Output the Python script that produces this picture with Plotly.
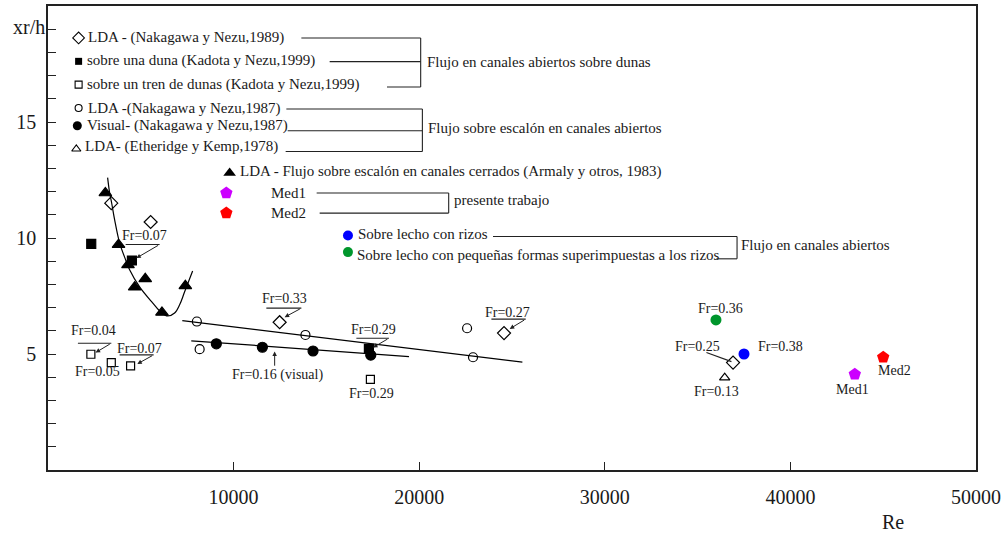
import plotly.graph_objects as go

# ---------------- data (Re, xr/h) ----------------
armaly_re = [3090, 3800, 4310, 4670, 5240, 6140, 7400]
armaly_xr = [11.94, 9.71, 8.84, 7.88, 8.24, 6.79, 7.94]

nn89_re = [3410, 5530, 12480, 24570, 36910]
nn89_xr = [11.50, 10.69, 6.37, 5.90, 4.63]

duna_re = [2330, 4520, 17290]
duna_xr = [9.75, 9.03, 5.22]

tren_re = [2310, 3410, 4450, 17370]
tren_xr = [4.99, 4.63, 4.49, 3.91]

nn87_lda_re = [8020, 8170, 13870, 22580, 22900]
nn87_lda_xr = [6.40, 5.21, 5.82, 6.11, 4.86]

nn87_vis_re = [9070, 11550, 14280, 17390]
nn87_vis_xr = [5.44, 5.29, 5.13, 4.95]

eth_re = [36460]
eth_xr = [3.98]

rizos_re = [37500]
rizos_xr = [5.00]
peq_re = [35990]
peq_xr = [6.47]

med1_re = [43470]
med1_xr = [4.13]
med2_re = [45000]
med2_xr = [4.86]

# trend lines
curve_re = [3212, 3320, 3427, 3589, 3858, 4182, 4397, 4936, 5637, 6122, 6445, 6822, 7092, 7361, 7792]
curve_xr = [12.60, 11.95, 11.52, 10.79, 9.79, 9.06, 8.63, 7.89, 7.20, 6.77, 6.64, 6.77, 7.12, 7.68, 8.58]
lda_fit_re = [7235, 25560]
lda_fit_xr = [6.44, 4.65]
vis_fit_re = [7720, 19450]
vis_fit_xr = [5.57, 4.89]

x_ticks = [10000, 20000, 30000, 40000, 50000]
y_ticks = list(range(1, 20))
y_labels = {5: "5", 10: "10", 15: "15"}

# ---------------- layout helpers (pixel -> axis units) ----------------
X0, XW = 48.4, 927.8
Y0, YH = 470.0, 463.6
def dx(px):
    return (px - X0) / XW * 50000
def dy(py):
    return (Y0 - py) / YH * 20
def px_paper(px):
    return (px - X0) / XW
def py_paper(py):
    return (Y0 - py) / YH

FONT = "Liberation Serif"
TXT = "#1a1a1a"

fig = go.Figure()

def line(xs, ys, shape="linear"):
    fig.add_trace(go.Scatter(x=xs, y=ys, mode="lines", showlegend=False,
                             line=dict(color="black", width=1.2, shape=shape, smoothing=1.0),
                             hoverinfo="skip"))

line(curve_re, curve_xr, "spline")
line(lda_fit_re, lda_fit_xr)
line(vis_fit_re, vis_fit_xr)

def pts(xs, ys, symbol, size, color="black", lw=1.2):
    fig.add_trace(go.Scatter(x=xs, y=ys, mode="markers", showlegend=False, cliponaxis=False,
                             marker=dict(symbol=symbol, size=size, color=color,
                                         line=dict(color=color, width=lw))))

pts(armaly_re, armaly_xr, "triangle-up", 11)
pts(nn89_re, nn89_xr, "diamond-open", 10)
pts(duna_re, duna_xr, "square", 9)
pts(tren_re, tren_xr, "square-open", 8)
pts(nn87_lda_re, nn87_lda_xr, "circle-open", 9)
pts(nn87_vis_re, nn87_vis_xr, "circle", 10)
pts(eth_re, eth_xr, "triangle-up-open", 9)
pts(rizos_re, rizos_xr, "circle", 11, "#0000ff", 0)
pts(peq_re, peq_xr, "circle", 11, "#00962c", 0)
pts(med1_re, med1_xr, "pentagon", 13, "#cc00ff", 0)
pts(med2_re, med2_xr, "pentagon", 13, "#ff0000", 0)

# ---------------- custom legend glyphs ----------------
legend_glyphs = [
    (79, 38.3, "diamond-open", 9, "black"),
    (79, 61.7, "square", 7, "black"),
    (79, 85, "square-open", 7, "black"),
    (79, 108.3, "circle-open", 7, "black"),
    (77.7, 126, "circle", 9, "black"),
    (76.7, 149.3, "triangle-up-open", 8, "black"),
    (230, 173.3, "triangle-up", 11, "black"),
    (226.7, 193.3, "pentagon", 13, "#cc00ff"),
    (226.7, 213.3, "pentagon", 13, "#ff0000"),
    (348.3, 235.7, "circle", 10, "#0000ff"),
    (348.3, 252.3, "circle", 10, "#00962c"),
]
for px, py, sym, sz, col in legend_glyphs:
    fig.add_trace(go.Scatter(x=[dx(px)], y=[dy(py)], mode="markers", showlegend=False,
                             hoverinfo="skip",
                             marker=dict(symbol=sym, size=sz, color=col,
                                         line=dict(color=col, width=1.1 if "open" in sym else 0))))

legend_texts = [
    (86, 37.5, "LDA - (Nakagawa y Nezu,1989)"),
    (85, 61, "sobre una duna (Kadota y Nezu,1999)"),
    (85, 84.5, "sobre un tren de dunas (Kadota y Nezu,1999)"),
    (86, 109, "LDA -(Nakagawa y Nezu,1987)"),
    (85, 126, "Visual- (Nakagawa y Nezu,1987)"),
    (83.5, 147, "LDA- (Etheridge y Kemp,1978)"),
    (238, 172, "LDA - Flujo sobre escalón en canales cerrados (Armaly y otros, 1983)"),
    (269, 193, "Med1"),
    (269, 213, "Med2"),
    (452.7, 200, "presente trabajo"),
    (356.7, 234, "Sobre lecho con rizos"),
    (355, 255, "Sobre lecho con pequeñas formas superimpuestas a los rizos"),
    (425, 62, "Flujo en canales abiertos sobre dunas"),
    (426.7, 128.5, "Flujo sobre escalón en canales abiertos"),
    (739.3, 245, "Flujo en canales abiertos"),
]
annotations = []
for px, py, t in legend_texts:
    annotations.append(dict(x=dx(px), y=dy(py), xref="x", yref="y", text=t, showarrow=False,
                            xanchor="left", yanchor="middle",
                            font=dict(family=FONT, size=15, color=TXT)))

bracket_segments = [
    (301.7, 38.3, 421, 38.3), (330, 62, 421, 62), (387.3, 87.3, 421, 87.3), (421, 38.3, 421, 87.3),
    (286.7, 109.3, 422.7, 109.3), (288, 131, 422.7, 131), (286, 151.7, 422.7, 151.7),
    (422.7, 109.3, 422.7, 151.7),
    (317, 193.3, 449, 193.3), (320, 213.3, 449, 213.3), (449, 193.3, 449, 213.3),
    (493.3, 236.7, 737.3, 236.7), (716.7, 259, 737.3, 259), (737.3, 236.7, 737.3, 259),
]
shapes = []
for x1, y1, x2, y2 in bracket_segments:
    shapes.append(dict(type="line", xref="x", yref="y", x0=dx(x1), y0=dy(y1), x1=dx(x2), y1=dy(y2),
                       line=dict(color="#222", width=1.1)))

# ---------------- Froude labels ----------------
fr_texts = [
    (145.3, 236, "Fr=0.07"), (94, 330.7, "Fr=0.04"), (97.7, 371.7, "Fr=0.05"),
    (140, 349, "Fr=0.07"), (285, 299, "Fr=0.33"), (374, 330, "Fr=0.29"),
    (278.3, 375, "Fr=0.16 (visual)"), (371.7, 393.3, "Fr=0.29"), (507.7, 312.3, "Fr=0.27"),
    (721, 308.3, "Fr=0.36"), (697.3, 346.7, "Fr=0.25"), (781, 346.7, "Fr=0.38"),
    (716.7, 391.7, "Fr=0.13"), (852.3, 390, "Med1"), (895, 370.7, "Med2"),
]
for px, py, t in fr_texts:
    annotations.append(dict(x=dx(px), y=dy(py), xref="x", yref="y", text=t, showarrow=False,
                            xanchor="center", yanchor="middle",
                            font=dict(family=FONT, size=14, color=TXT)))

underlines = [
    (126, 160, 244.7), (78.3, 111.7, 343.3), (120, 154, 355), (266.7, 301.7, 308.3),
    (356.7, 389.3, 338.3), (491.7, 526, 319.3),
]
for xa, xb, yy in underlines:
    shapes.append(dict(type="line", xref="x", yref="y", x0=dx(xa), y0=dy(yy), x1=dx(xb), y1=dy(yy),
                       line=dict(color="#222", width=1.1)))
shapes.append(dict(type="line", xref="x", yref="y", x0=dx(706.7), y0=dy(352.7), x1=dx(731.7), y1=dy(361.7),
                   line=dict(color="#222", width=1.1)))

arrows = [
    (160, 244.7, 136.7, 258.3), (111.7, 343.3, 96, 352.7), (154, 355, 137.7, 364),
    (301.7, 308.3, 285, 317.3), (389.3, 338.3, 373.3, 347.7), (275, 367.3, 275, 351.7),
    (526, 319.3, 510, 329),
]
for tx, ty, hx, hy in arrows:
    annotations.append(dict(x=dx(hx), y=dy(hy), ax=dx(tx), ay=dy(ty), xref="x", yref="y",
                            axref="x", ayref="y", text="", showarrow=True,
                            arrowhead=2, arrowsize=0.9, arrowwidth=1, arrowcolor="#222"))

# axis titles (paper coordinates, outside the plotting area)
annotations.append(dict(x=px_paper(29), y=py_paper(27), xref="paper", yref="paper", text="xr/h",
                        showarrow=False, xanchor="center", yanchor="middle",
                        font=dict(family=FONT, size=20, color=TXT)))
annotations.append(dict(x=px_paper(893), y=py_paper(522), xref="paper", yref="paper", text="Re",
                        showarrow=False, xanchor="center", yanchor="middle",
                        font=dict(family=FONT, size=20, color=TXT)))

fig.update_layout(
    width=1006, height=537,
    margin=dict(l=48, r=30, t=6, b=67),
    plot_bgcolor="white", paper_bgcolor="white",
    font=dict(family=FONT, size=20, color=TXT),
    annotations=annotations, shapes=shapes,
    xaxis=dict(range=[0, 50000], tickmode="array", tickvals=x_ticks,
               ticktext=[str(v) for v in x_ticks], automargin=False,
               ticks="inside", ticklen=8, tickwidth=1.2, tickcolor="#222",
               showline=True, linecolor="#222", linewidth=1.5, mirror=True,
               showgrid=False, zeroline=False, ticklabelstandoff=8,
               tickfont=dict(family=FONT, size=20, color=TXT)),
    yaxis=dict(range=[0, 20], tickmode="array", tickvals=y_ticks,
               ticktext=[y_labels.get(v, "") for v in y_ticks], automargin=False,
               ticks="inside", ticklen=8, tickwidth=1.2, tickcolor="#222",
               showline=True, linecolor="#222", linewidth=1.5, mirror=True,
               showgrid=False, zeroline=False, ticklabelstandoff=6,
               tickfont=dict(family=FONT, size=20, color=TXT)),
)

fig.write_html("out.html", config={"displayModeBar": False},
               post_script="document.body.style.margin='0';document.body.style.overflow='hidden';")
